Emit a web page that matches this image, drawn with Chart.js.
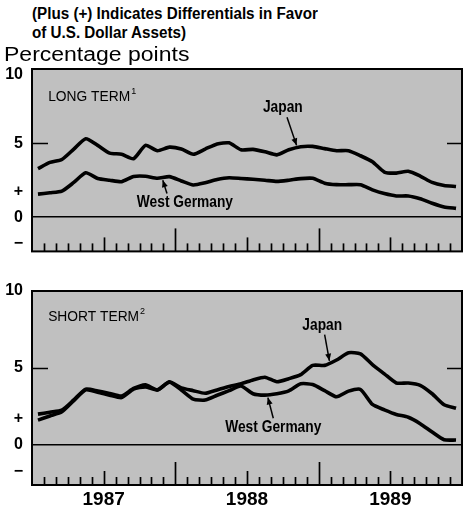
<!DOCTYPE html>
<html><head><meta charset="utf-8">
<script src="https://cdn.jsdelivr.net/npm/chart.js@4.4.1/dist/chart.umd.min.js"></script>
<style>
html,body{margin:0;padding:0;background:#fff;}
#wrap{position:relative;width:465px;height:511px;overflow:hidden;background:#fff;}
canvas{position:absolute;left:0;}
.hd{position:absolute;white-space:nowrap;line-height:1;color:#000;transform-origin:0 0;}
.b{font-family:'Liberation Sans',Arial,sans-serif;font-weight:bold;font-size:16px;transform:scaleX(0.95);}
.r{font-family:'Liberation Sans',Arial,sans-serif;font-size:20px;transform:scaleX(1.15);}
</style></head><body>
<div id="wrap">
<canvas id="c1" width="465" height="225" style="top:45px"></canvas>
<canvas id="c2" width="465" height="241" style="top:270px"></canvas>
<div class="hd b" style="left:32px;top:6px">(Plus (+) Indicates Differentials in Favor</div>
<div class="hd b" style="left:32px;top:25px">of U.S. Dollar Assets)</div>
<div class="hd r" style="left:4px;top:44px">Percentage points</div>
</div>
<script>
// ---- data ----
const months = ['1987-01','1987-02','1987-03','1987-04','1987-05','1987-06','1987-07','1987-08','1987-09','1987-10','1987-11','1987-12',
                '1988-01','1988-02','1988-03','1988-04','1988-05','1988-06','1988-07','1988-08','1988-09','1988-10','1988-11','1988-12',
                '1989-01','1989-02','1989-03','1989-04','1989-05','1989-06','1989-07','1989-08','1989-09','1989-10','1989-11','1989-12'];
const japanLong    = [3.28,3.7,3.9,4.6,5.3,4.85,4.33,4.25,3.95,4.85,4.49,4.73,4.6,4.25,4.6,4.95,5.02,4.55,4.58,4.42,4.21,4.55,4.76,4.78,4.63,4.49,4.49,4.15,3.75,3.05,2.98,3.1,2.78,2.35,2.15,2.08];
const germanyLong  = [1.56,1.65,1.76,2.35,3.0,2.62,2.5,2.4,2.75,2.77,2.63,2.74,2.45,2.18,2.33,2.55,2.67,2.62,2.56,2.5,2.42,2.5,2.61,2.63,2.3,2.2,2.2,2.2,1.85,1.6,1.44,1.44,1.25,0.95,0.7,0.6];
const japanShort   = [1.97,2.1,2.23,2.9,3.6,3.48,3.32,3.15,3.65,3.88,3.56,4.08,3.68,3.5,3.33,3.55,3.78,3.95,4.2,4.38,4.08,4.28,4.55,5.15,5.15,5.5,5.97,5.9,5.2,4.6,4.0,4.0,3.85,3.3,2.58,2.35];
const germanyShort = [1.58,1.85,2.12,2.85,3.55,3.4,3.21,3.05,3.6,3.75,3.54,4.05,3.55,2.95,2.89,3.2,3.5,3.8,3.3,3.21,3.3,3.49,3.95,3.9,3.5,3.1,3.47,3.58,2.6,2.25,1.95,1.77,1.35,0.8,0.3,0.28];
const yearLabels = ['1987','1988','1989'];
const yearTickMonths = [6,18,30];
const yTickValuesTop = [9.65,5,1.7,0,-1.75];
const yTickValuesBottom = [10,5,1.7,0,-1.75];
const yTickLabels = ['10','5','+','0','\u2212'];

const SANS = "'Liberation Sans',Arial,sans-serif";

function pts(arr){ return arr.map((v,i)=>({x:i+0.5, y:v})); }

function txt(c, s, x, y, font, sx, align){
  c.save(); c.font = font; c.translate(x,y); c.scale(sx,1);
  c.textAlign = align; c.textBaseline = 'middle'; c.fillText(s,0,0);
  const w = c.measureText(s).width*sx; c.restore(); return w;
}

const decor = {
  id:'decor',
  beforeDraw(chart){
    const a = chart.chartArea, c = chart.ctx;
    c.save(); c.fillStyle = '#c0c0c0'; c.fillRect(a.left,a.top,a.right-a.left,a.bottom-a.top); c.restore();
  },
  beforeDatasetsDraw(chart){
    const a = chart.chartArea, c = chart.ctx, xs = chart.scales.x, ys = chart.scales.y;
    c.save(); c.strokeStyle='#000'; c.lineWidth=1.7;
    for(let m=1;m<months.length;m++){
      const px = Math.round(xs.getPixelForValue(m))+0.5;
      const L = m%12===0 ? 23 : (m%6===0 ? 14 : 8);
      c.beginPath(); c.moveTo(px,a.bottom); c.lineTo(px,a.bottom-L); c.stroke();
    }
    const y5 = Math.round(ys.getPixelForValue(5))+0.5;
    c.beginPath(); c.moveTo(a.left,y5); c.lineTo(a.left+16,y5); c.moveTo(a.right-15,y5); c.lineTo(a.right,y5); c.stroke();
    c.restore();
  },
  afterDraw(chart, args, opts){
    const a = chart.chartArea, c = chart.ctx, xs = chart.scales.x, ys = chart.scales.y;
    c.save();
    c.strokeStyle='#000'; c.lineWidth=2;
    c.strokeRect(a.left, a.top, a.right-a.left, a.bottom-a.top);
    c.fillStyle='#000';
    const tx = xs.getPixelForValue(opts.title.x), ty = ys.getPixelForValue(opts.title.y);
    const w = txt(c, opts.title.text, tx, ty, '15px '+SANS, 0.92, 'left');
    txt(c, opts.title.sup, tx+w+1, ty-6, '9px '+SANS, 1, 'left');
    for(const l of opts.labels){
      txt(c, l.text, xs.getPixelForValue(l.x), ys.getPixelForValue(l.y), 'bold 16px '+SANS, 0.86, 'center');
      const x1=xs.getPixelForValue(l.ax1), y1=ys.getPixelForValue(l.ay1), x2=xs.getPixelForValue(l.ax2), y2=ys.getPixelForValue(l.ay2);
      c.lineWidth=1.5; c.beginPath(); c.moveTo(x1,y1); c.lineTo(x2,y2); c.stroke();
      const ang=Math.atan2(y2-y1,x2-x1), hl=7, hw=3;
      c.beginPath(); c.moveTo(x2,y2);
      c.lineTo(x2-hl*Math.cos(ang)+hw*Math.sin(ang), y2-hl*Math.sin(ang)-hw*Math.cos(ang));
      c.lineTo(x2-hl*Math.cos(ang)-hw*Math.sin(ang), y2-hl*Math.sin(ang)+hw*Math.cos(ang));
      c.closePath(); c.fill();
    }
    c.restore();
  }
};

function makeChart(id, jp, de, yMin, tickVals, pad, showYears, decorOpts){
  return new Chart(document.getElementById(id), {
    type:'line',
    data:{ datasets:[
      {label:'Japan', data:pts(jp), borderColor:'#000', borderWidth:3.6, pointRadius:0, tension:0.2, fill:false},
      {label:'West Germany', data:pts(de), borderColor:'#000', borderWidth:3.6, pointRadius:0, tension:0.2, fill:false}
    ]},
    options:{
      responsive:false, animation:false, devicePixelRatio:1,
      layout:{padding:pad},
      plugins:{legend:{display:false}, tooltip:{enabled:false}, decor:decorOpts},
      scales:{
        x:{type:'linear', min:0, max:months.length, display:showYears,
           grid:{display:false, drawTicks:false}, border:{display:false},
           afterBuildTicks(s){ s.ticks = yearTickMonths.map(v=>({value:v})); },
           afterFit(s){ s.height = showYears ? 26 : 0; },
           ticks:{autoSkip:false, maxRotation:0, padding:3, color:'#000',
                  font:{family:SANS, weight:'bold', size:19},
                  callback(v,i){ return yearLabels[i]; }}},
        y:{min:yMin, max:10,
           afterBuildTicks(s){ s.ticks = tickVals.map(v=>({value:v})); },
           afterFit(s){ s.width = 32; },
           border:{display:false},
           grid:{drawTicks:false, lineWidth:1.6, color:(ctx)=> (ctx.tick && ctx.tick.value===0) ? '#000' : 'rgba(0,0,0,0)'},
           ticks:{autoSkip:false, padding:9, color:'#000', font:{family:SANS, weight:'bold', size:16},
                  callback(v,i){ return yTickLabels[i]; }}}
      }
    },
    plugins:[decor]
  });
}

makeChart('c1', japanLong, germanyLong, -2.3, yTickValuesTop, {top:24,right:3,bottom:13,left:0}, false, {
  title:{text:'LONG TERM', sup:'1', x:1.35, y:8.1},
  labels:[
    {text:'Japan', x:21.0, y:7.43, ax1:21.35, ay1:6.75, ax2:22.15, ay2:4.85},
    {text:'West Germany', x:12.8, y:0.96, ax1:11.3, ay1:1.6, ax2:10.95, ay2:2.5}
  ]});
makeChart('c2', japanShort, germanyShort, -2.65, yTickValuesBottom, {top:21,right:3,bottom:0,left:0}, true, {
  title:{text:'SHORT TERM', sup:'2', x:1.35, y:8.3},
  labels:[
    {text:'Japan', x:24.3, y:7.73, ax1:24.5, ay1:7.15, ax2:24.9, ay2:5.45},
    {text:'West Germany', x:20.2, y:1.07, ax1:20.2, ay1:1.7, ax2:19.75, ay2:3.05}
  ]});
</script>
</body></html>
